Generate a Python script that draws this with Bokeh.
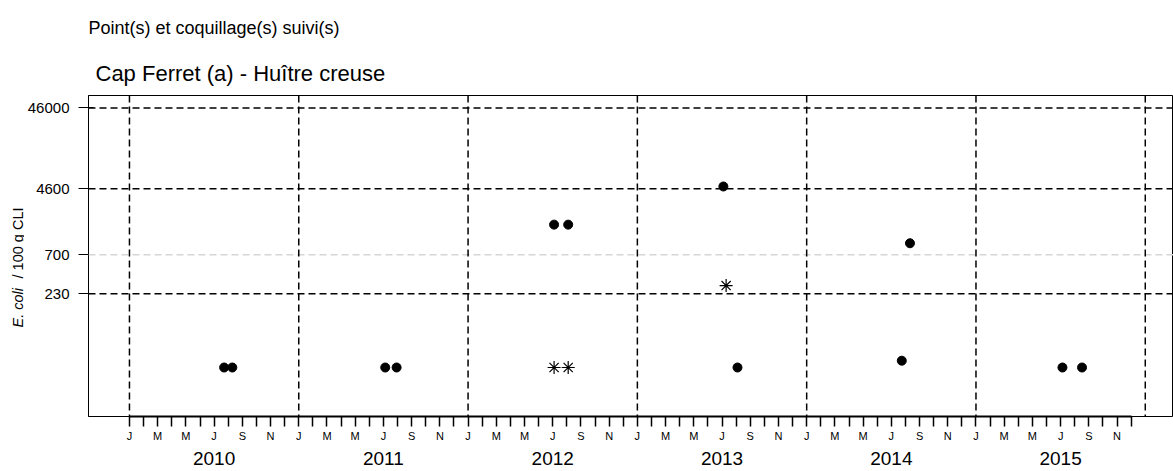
import math
import pandas as pd
from bokeh.plotting import figure
from bokeh.layouts import column, row
from bokeh.models import Range1d, FixedTicker, Span, LinearAxis
from bokeh.core.properties import value
from bokeh.embed import file_html
from bokeh.resources import INLINE

# ---------------- data ----------------
dot_dates = ["2010-07-23", "2010-08-10", "2011-07-05", "2011-07-30",
             "2012-07-04", "2012-08-04", "2013-07-04", "2013-08-04",
             "2014-07-24", "2014-08-11", "2015-07-05", "2015-08-17"]
dot_values = [28, 28, 28, 28, 1650, 1650, 4900, 28, 34, 970, 28, 28]

star_dates = ["2012-07-04", "2012-08-04", "2013-07-10"]
star_values = [28, 28, 290]

thresholds = [46000, 4600, 700, 230]
threshold_colors = ["#000000", "#000000", "#d6d6d6", "#000000"]

years = [2010, 2011, 2012, 2013, 2014, 2015]
month_letters = ["J", "", "M", "", "M", "", "J", "", "S", "", "N", ""]

subtitle = "Point(s) et coquillage(s) suivi(s)"
title = "Cap Ferret (a) - Huître creuse"
ylabel_italic = "E. coli"
ylabel_rest = "/ 100 g CLI"
FONT = "Liberation Sans"


def to_month_index(dates):
    out = []
    for d in pd.to_datetime(dates):
        out.append((d.year - years[0]) * 12 + (d.month - 1) + (d.day - 1) / d.days_in_month)
    return out


dot_x = to_month_index(dot_dates)
star_x = to_month_index(star_dates)

TOP_H = 93
LEFT_W = 24
MAIN_W = 1173 - LEFT_W
MAIN_H = 471 - TOP_H
FRAME_TOP = 95      # page y of the plot frame top
FRAME_BOTTOM = 416  # page y of the plot frame bottom


def blank(width, height, xr, yr):
    f = figure(width=width, height=height, x_range=xr, y_range=yr,
               output_backend="svg", toolbar_location=None,
               x_axis_location=None, y_axis_location=None,
               min_border=0, min_border_left=0, min_border_right=0,
               min_border_top=0, min_border_bottom=0)
    f.grid.visible = False
    f.outline_line_color = None
    f.background_fill_color = "white"
    f.border_fill_color = "white"
    return f


# ---------------- title strip ----------------
top = blank(1173, TOP_H, Range1d(0, 1173), Range1d(0, TOP_H))
top.text(x=[88], y=[TOP_H - 27], text=[subtitle], text_font=value(FONT),
         text_font_size="18px", text_baseline="alphabetic", text_align="left",
         text_color="black")
top.text(x=[95], y=[TOP_H - 73], text=[title], text_font=value(FONT),
         text_font_size="22px", text_baseline="alphabetic", text_align="left",
         text_color="black")

# ---------------- y label strip (frame aligned with main frame) ----------------
left = blank(LEFT_W, MAIN_H, Range1d(0, LEFT_W),
             Range1d(0, FRAME_BOTTOM - FRAME_TOP))
left.text(x=[17], y=[FRAME_BOTTOM - 327], text=[ylabel_italic],
          angle=math.pi / 2, text_font=value(FONT), text_font_style="italic",
          text_font_size="14.5px", text_baseline="middle", text_align="left",
          text_color="black")
left.text(x=[17], y=[FRAME_BOTTOM - 207], text=[ylabel_rest],
          angle=math.pi / 2, text_font=value(FONT),
          text_font_size="14.5px", text_baseline="middle", text_align="right",
          text_color="black")

# ---------------- main plot ----------------
p = figure(width=MAIN_W, height=MAIN_H,
           x_range=Range1d(-2.903, 74.0), y_range=Range1d(6.92, 65700),
           y_axis_type="log", output_backend="svg", toolbar_location=None,
           min_border_left=87 - LEFT_W, min_border_right=0,
           min_border_top=FRAME_TOP - TOP_H, min_border_bottom=471 - FRAME_BOTTOM)
p.background_fill_color = "white"
p.border_fill_color = "white"
p.outline_line_color = "black"
p.outline_line_width = 1
p.xgrid.visible = False
p.ygrid.visible = False

# x axis: months
n_months = len(years) * 12
xa = p.below[0]
xa.ticker = FixedTicker(ticks=list(range(n_months)))
xa.major_label_overrides = {i: month_letters[i % 12] for i in range(n_months)}
xa.bounds = (0, n_months - 1)
xa.axis_line_width = 2
xa.axis_line_color = "black"
xa.major_tick_out = 10
xa.major_tick_in = 0
xa.major_tick_line_color = "black"
xa.major_tick_line_width = 1.5
xa.minor_tick_line_color = None
xa.major_label_standoff = 3
xa.major_label_text_font = FONT
xa.major_label_text_font_size = "11px"
xa.major_label_text_color = "black"

# second x axis: years
year_ticks = [12 * k + 6 for k in range(len(years))]
ya2 = LinearAxis(ticker=FixedTicker(ticks=year_ticks),
                 major_label_overrides={t: str(y) for t, y in zip(year_ticks, years)},
                 axis_line_color=None, major_tick_line_color=None,
                 minor_tick_line_color=None, major_tick_out=0, major_tick_in=0,
                 major_label_standoff=7, major_label_text_font=FONT,
                 major_label_text_font_size="19px", major_label_text_color="black")
p.add_layout(ya2, "below")

# y axis: thresholds
yax = p.left[0]
yax.ticker = FixedTicker(ticks=thresholds)
yax.major_label_overrides = {t: str(t) for t in thresholds}
yax.axis_line_color = "black"
yax.major_tick_out = 10
yax.major_tick_in = 5
yax.major_tick_line_color = "black"
yax.minor_tick_line_color = None
yax.major_label_standoff = 9
yax.major_label_text_font = FONT
yax.major_label_text_font_size = "15px"
yax.major_label_text_color = "black"

# threshold lines
for t, c in zip(thresholds, threshold_colors):
    p.add_layout(Span(location=t, dimension="width", line_color=c,
                      line_dash="7 4", line_width=1.5))

# year separators
for k in range(len(years) + 1):
    p.add_layout(Span(location=12 * k, dimension="height", line_color="black",
                      line_dash="7 4", line_width=1.5))

# data
p.scatter(dot_x, dot_values, marker="circle", size=9, fill_color="black",
          line_color="black")
p.scatter(star_x, star_values, marker="asterisk", size=13, line_color="black",
          line_width=1.2)

layout = column(top, row(left, p, spacing=0), spacing=0)
open("out.html", "w").write(file_html(layout, INLINE))
